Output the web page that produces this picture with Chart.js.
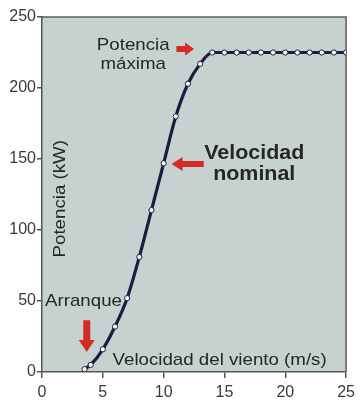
<!DOCTYPE html>
<html>
<head>
<meta charset="utf-8">
<script src="https://cdn.jsdelivr.net/npm/chart.js@4.4.1/dist/chart.umd.min.js"></script>
<style>
  html, body { margin: 0; padding: 0; background: #ffffff; }
  #curvaPotencia { display: block; }
</style>
</head>
<body>
<canvas id="curvaPotencia" width="360" height="400"></canvas>
<script>
// curva de potencia del aerogenerador
var velocidad = [3.5, 4, 5, 6, 7, 8, 9, 10, 11, 12, 13, 14, 15, 16, 17, 18, 19, 20, 21, 22, 23, 24, 25];
var potencia = [2, 5, 16, 32, 52, 81, 114, 147, 180, 203, 217, 225, 225, 225, 225, 225, 225, 225, 225, 225, 225, 225, 225];

var ticksX = [0, 5, 10, 15, 20, 25];
var ticksY = [0, 50, 100, 150, 200, 250];

var tituloX = 'Velocidad del viento (m/s)';
var tituloY = 'Potencia (kW)';

var FUENTE = '"Liberation Sans", Arial, Helvetica, sans-serif';
var ROJO = '#d62a26';
var TEXTO = '#262626';

// texto algo ensanchado, como en la lámina original
function texto(ctx, txt, x, y, font, align, ancho, angulo) {
    ctx.save();
    ctx.font = font;
    ctx.fillStyle = TEXTO;
    ctx.textAlign = align || 'left';
    ctx.textBaseline = 'middle';
    ctx.translate(x, y);
    if (angulo) ctx.rotate(angulo);
    ctx.scale(ancho || 1, 1);
    ctx.fillText(txt, 0, 0);
    ctx.restore();
}

// flecha roja: de (x1,y1) hacia (x2,y2), en pixeles
function flecha(ctx, x1, y1, x2, y2, grueso, cabeza, largoCabeza) {
    var ang = Math.atan2(y2 - y1, x2 - x1);
    var len = Math.hypot(x2 - x1, y2 - y1);
    ctx.save();
    ctx.translate(x1, y1);
    ctx.rotate(ang);
    ctx.fillStyle = ROJO;
    ctx.beginPath();
    ctx.moveTo(0, -grueso / 2);
    ctx.lineTo(len - largoCabeza, -grueso / 2);
    ctx.lineTo(len - largoCabeza, -cabeza / 2);
    ctx.lineTo(len, 0);
    ctx.lineTo(len - largoCabeza, cabeza / 2);
    ctx.lineTo(len - largoCabeza, grueso / 2);
    ctx.lineTo(0, grueso / 2);
    ctx.closePath();
    ctx.fill();
    ctx.restore();
}

var fondoPlugin = {
    id: 'fondo',
    beforeDraw: function (chart) {
        var a = chart.chartArea, ctx = chart.ctx;
        ctx.save();
        ctx.fillStyle = '#c6d2d0';
        ctx.fillRect(a.left, a.top, a.right - a.left, a.bottom - a.top);
        // marco superior y derecho
        ctx.strokeStyle = '#5e5e5e';
        ctx.lineWidth = 1.5;
        ctx.beginPath();
        ctx.moveTo(a.left, a.top);
        ctx.lineTo(a.right, a.top);
        ctx.lineTo(a.right, a.bottom);
        ctx.stroke();
        ctx.restore();
    }
};

var notasPlugin = {
    id: 'notas',
    afterDraw: function (chart) {
        var ctx = chart.ctx;
        var sx = chart.scales.x, sy = chart.scales.y;
        var px = function (v) { return sx.getPixelForValue(v); };
        var py = function (v) { return sy.getPixelForValue(v); };
        var normal = '17px ' + FUENTE;
        var negrita = 'bold 21px ' + FUENTE;

        texto(ctx, tituloX, px(14.6), py(8), normal, 'center', 1.1);
        texto(ctx, tituloY, px(1.5), py(122), normal, 'center', 1.1, -Math.PI / 2);

        texto(ctx, 'Potencia', px(7.5), py(230), normal, 'center', 1.1);
        texto(ctx, 'máxima', px(7.5), py(217), normal, 'center', 1.1);
        flecha(ctx, px(11.05), py(227.5), px(12.5), py(227.5), 6, 13, 9);

        texto(ctx, 'Velocidad', px(17.45), py(154), negrita, 'center', 1.02);
        texto(ctx, 'nominal', px(17.45), py(139), negrita, 'center', 1.02);
        flecha(ctx, px(13.3), py(146.5), px(10.65), py(146.5), 6, 14, 11);

        texto(ctx, 'Arranque', px(0.25), py(50), normal, 'left', 1.1);
        flecha(ctx, px(3.68), py(36.5), px(3.68), py(14), 7, 16, 12);
    }
};

new Chart(document.getElementById('curvaPotencia'), {
    type: 'line',
    data: {
        datasets: [{
            data: velocidad.map(function (v, i) { return { x: v, y: potencia[i] }; }),
            borderColor: '#1b1c3e',
            borderWidth: 3.2,
            cubicInterpolationMode: 'monotone',
            pointRadius: 2.6,
            pointBorderWidth: 1,
            pointBackgroundColor: '#ffffff',
            pointBorderColor: '#1b1c3e',
            fill: false
        }]
    },
    options: {
        responsive: false,
        animation: false,
        layout: { padding: { top: 17, right: 3, left: 0, bottom: 0 } },
        plugins: {
            legend: { display: false },
            tooltip: { enabled: false }
        },
        scales: {
            x: {
                type: 'linear',
                min: 0,
                max: 25,
                afterBuildTicks: function (s) { s.ticks = ticksX.map(function (v) { return { value: v }; }); },
                afterFit: function (s) { s.height = 28; },
                grid: { drawOnChartArea: false, drawTicks: true, tickLength: 6, color: '#555555', lineWidth: 1.5 },
                border: { color: '#555555', width: 1.5 },
                ticks: { color: '#3a3a3a', padding: 5, maxRotation: 0, font: { size: 16, family: FUENTE } }
            },
            y: {
                type: 'linear',
                min: 0,
                max: 250,
                afterBuildTicks: function (s) { s.ticks = ticksY.map(function (v) { return { value: v }; }); },
                afterFit: function (s) { s.width = 42; },
                grid: { drawOnChartArea: false, drawTicks: true, tickLength: 5, color: '#555555', lineWidth: 1.5 },
                border: { color: '#555555', width: 1.5 },
                ticks: { color: '#3a3a3a', padding: 1, font: { size: 16, family: FUENTE } }
            }
        }
    },
    plugins: [fondoPlugin, notasPlugin]
});
</script>
</body>
</html>
